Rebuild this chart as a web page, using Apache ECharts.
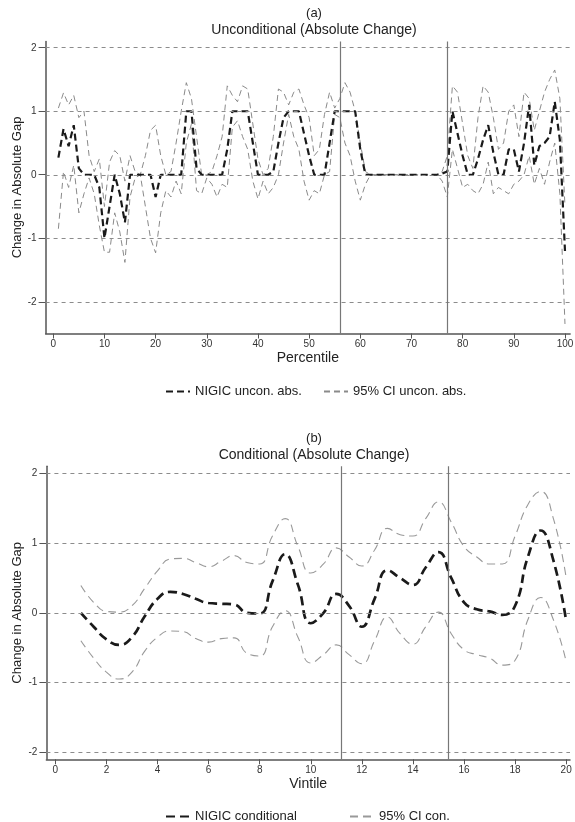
<!DOCTYPE html>
<html>
<head>
<meta charset="utf-8">
<script src="https://cdn.jsdelivr.net/npm/echarts@6/dist/echarts.min.js"></script>
<style>
html,body{margin:0;padding:0;background:#fff;}
#chart{width:575px;height:822px;}
</style>
</head>
<body>
<div id="chart"></div>
<script>
// ---------- Panel (a): unconditional, by percentile ----------
const percentiles = Array.from({length: 100}, (_, i) => i + 1);
const uncMain = [
 0.27,0.72,0.45,0.78,0.10,0,0,0,-0.20,-1.00,
 -0.50,0,-0.30,-0.75,0,0,0,0,0,-0.35,
 0,0,0,0,0,1.00,1.00,0.10,0,0,
 0,0,0,0.40,1.00,1.00,1.00,1.00,0.50,0,
 0,0,0.05,0.50,0.90,1.00,1.00,1.00,0.65,0.30,
 0,0,0,0.50,1.00,1.00,1.00,1.00,1.00,0.40,
 0,0,0,0,0,0,0,0,0,0,
 0,0,0,0,0,0.02,0.05,1.00,0.65,0.30,
 0,0,0.25,0.55,0.78,0.35,0,0,0.40,0.40,
 0.05,0.50,1.10,0.15,0.45,0.50,0.60,1.15,0.55,-1.20
];
const uncUpper = [
 1.05,1.29,1.10,1.25,0.90,1.00,0.30,0.05,0.25,-0.50,
 0.20,0.38,0.30,-0.10,0.30,0.05,0,0.30,0.70,0.78,
 0.30,0,0.05,0.50,1.00,1.45,1.20,0.60,0,0,
 0.05,0.30,0.60,1.40,1.25,1.15,1.40,1.35,0.80,0.25,
 0,0.10,0.60,1.35,1.30,1.10,1.30,1.35,1.10,0.90,
 0.30,0.40,0.95,1.30,1.05,1.20,1.45,1.30,1.00,0.50,
 0.05,0,0,0,0,0,0,0,0,0,
 0,0,0,0,0,0.05,0.30,1.40,1.30,0.80,
 0.30,0.10,0.90,1.40,1.30,0.90,0.40,0.50,1.00,1.10,
 0.60,1.30,1.20,0.70,1.00,1.30,1.50,1.65,1.20,-0.50
];
const uncLower = [
 -0.85,0.05,-0.20,0.15,-0.60,-0.30,-0.05,-0.30,-0.80,-1.22,
 -1.22,-0.60,-0.90,-1.38,-0.35,-0.05,0,-0.50,-1.00,-1.23,
 -0.60,-0.25,-0.35,-0.10,-0.30,0.50,0.80,-0.25,-0.30,-0.05,
 -0.15,-0.35,-0.15,-0.20,0.75,0.85,0.60,0.40,-0.10,-0.38,
 -0.10,-0.30,-0.20,0,0.50,0.95,0.60,0.40,-0.10,-0.40,
 -0.25,-0.30,0,0.05,0.95,0.90,0.50,0.30,-0.10,-0.40,
 -0.15,0,0,0,0,0,0,0,0,0,
 0,0,0,0,0,-0.10,-0.35,0.40,0.10,-0.20,
 -0.15,-0.25,-0.30,-0.15,0.20,-0.30,-0.20,-0.25,-0.30,-0.15,
 -0.10,0,0.30,-0.15,0.10,-0.15,0.20,0.50,-0.30,-2.35
];
const uncXTicks = [0,10,20,30,40,50,60,70,80,90,100];
const uncVLines = [56, 77];

// ---------- Panel (b): conditional, by vintile ----------
const vintiles = [1,1.5,2,2.5,3,3.5,4,4.5,5,5.5,6,6.5,7,7.5,8,8.5,9,9.5,10,10.5,
                  11,11.5,12,12.5,13,13.5,14,14.5,15,15.5,16,16.5,17,17.5,18,18.5,19,19.5,20];
const conMain = [0.0,-0.2,-0.38,-0.46,-0.35,-0.05,0.2,0.3,0.27,0.2,
                 0.14,0.13,0.12,0.0,-0.01,0.45,0.84,0.4,-0.15,0.0,
                 0.27,0.1,-0.2,0.2,0.61,0.5,0.4,0.65,0.87,0.5,
                 0.15,0.05,0.02,-0.03,0.1,0.8,1.18,0.75,-0.12];
const conUpper = [0.39,0.15,0.02,0.01,0.1,0.35,0.6,0.77,0.78,0.72,
                  0.66,0.74,0.82,0.72,0.7,1.1,1.35,0.95,0.57,0.7,
                  0.93,0.8,0.67,0.9,1.21,1.12,1.1,1.35,1.59,1.3,
                  0.95,0.8,0.7,0.7,1.1,1.55,1.74,1.35,0.5];
const conLower = [-0.4,-0.65,-0.85,-0.95,-0.85,-0.55,-0.35,-0.26,-0.27,-0.37,
                  -0.42,-0.37,-0.36,-0.58,-0.62,-0.2,0.03,-0.35,-0.72,-0.6,
                  -0.46,-0.6,-0.73,-0.4,-0.06,-0.3,-0.45,-0.2,0.01,-0.3,
                  -0.53,-0.6,-0.65,-0.75,-0.68,-0.1,0.22,-0.1,-0.7];
const conXTicks = [0,2,4,6,8,10,12,14,16,18,20];
const conVLines = [11.2, 15.4];

const yTicks = [-2,-1,0,1,2];

// ---------- styles ----------
const FONT = 'Liberation Sans';
const axisCol = '#555';
const gridDash = {color:'#8c8c8c', width:1, type:[4,4]};
const vStyle = {color:'#777', width:1.2, type:'solid'};

function pairs(xs, ys){ return xs.map((x,i)=>[x, ys[i]]); }

function gridMarks(vlines){
  return {
    silent:true, symbol:'none', label:{show:false}, animation:false,
    data: yTicks.map(v=>({yAxis:v, lineStyle:gridDash}))
          .concat(vlines.map(v=>({xAxis:v, lineStyle:vStyle})))
  };
}

function xAxisDef(gi, min, max, ticks, name){
  return {
    type:'value', gridIndex:gi, min:min, max:max,
    name:name, nameLocation:'middle', nameGap:18,
    nameTextStyle:{fontFamily:FONT, fontSize:14, color:'#222'},
    axisLine:{show:true, onZero:false, lineStyle:{color:axisCol, width:1.5}},
    axisTick:{show:true, length:5, customValues:ticks, lineStyle:{color:axisCol}},
    axisLabel:{customValues:ticks, fontFamily:FONT, fontSize:10, color:'#333', margin:6},
    splitLine:{show:false}
  };
}
function yAxisDef(gi, min, max){
  return {
    type:'value', gridIndex:gi, min:min, max:max,
    name:'Change in Absolute Gap', nameLocation:'middle', nameGap:22, nameMoveOverlap:false,
    nameTextStyle:{fontFamily:FONT, fontSize:13, color:'#222'},
    axisLine:{show:true, onZero:false, lineStyle:{color:axisCol, width:1.5}},
    axisTick:{show:true, length:7, customValues:yTicks, lineStyle:{color:axisCol}},
    axisLabel:{customValues:yTicks, fontFamily:FONT, fontSize:10, color:'#333', margin:9},
    splitLine:{show:false}
  };
}

const ciStyleTop = {color:'#8a8a8a', width:1, type:[6,4]};
const mainStyleTop = {color:'#1a1a1a', width:2.2, type:[7,4]};
const ciStyleBot = {color:'#999', width:1.1, type:[8,5]};
const mainStyleBot = {color:'#1a1a1a', width:2.7, type:[9,5]};

const legendBase = {itemWidth:24, itemHeight:10, itemStyle:{opacity:0},
  textStyle:{fontFamily:FONT, fontSize:13, color:'#222'}};

const option = {
  animation:false,
  backgroundColor:'#fff',
  title:[
    {text:'(a)', left:309, top:2, textAlign:'center', textStyle:{fontFamily:FONT, fontSize:13, fontWeight:'normal', color:'#222'}},
    {text:'Unconditional (Absolute Change)', left:309, top:18, textAlign:'center', textStyle:{fontFamily:FONT, fontSize:14, fontWeight:'normal', color:'#222'}},
    {text:'(b)', left:309, top:427, textAlign:'center', textStyle:{fontFamily:FONT, fontSize:13, fontWeight:'normal', color:'#222'}},
    {text:'Conditional (Absolute Change)', left:309, top:443, textAlign:'center', textStyle:{fontFamily:FONT, fontSize:14, fontWeight:'normal', color:'#222'}}
  ],
  legend:[
    Object.assign({data:['NIGIC uncon. abs.'], left:160, top:380}, legendBase),
    Object.assign({data:['95% CI uncon. abs.'], left:318, top:380}, legendBase),
    Object.assign({data:['NIGIC conditional'], left:160, top:805}, legendBase),
    Object.assign({data:['95% CI con.'], left:344, top:805}, legendBase)
  ],
  grid:[
    {left:45.6, width:524.5, top:41.4, height:292.1, containLabel:false, outerBoundsMode:'none'},
    {left:46.4, width:523.6, top:466.3, height:293, containLabel:false, outerBoundsMode:'none'}
  ],
  xAxis:[
    xAxisDef(0, -1.5, 101, uncXTicks, 'Percentile'),
    xAxisDef(1, -0.35, 20.15, conXTicks, 'Vintile')
  ],
  yAxis:[
    yAxisDef(0, -2.5, 2.1),
    yAxisDef(1, -2.1, 2.1)
  ],
  series:[
    {name:'95% CI uncon. abs.', type:'line', xAxisIndex:0, yAxisIndex:0, symbol:'none',
     data:pairs(percentiles, uncUpper), lineStyle:ciStyleTop, itemStyle:{color:'#8a8a8a'},
     markLine:gridMarks(uncVLines), z:2},
    {name:'95% CI uncon. abs.', type:'line', xAxisIndex:0, yAxisIndex:0, symbol:'none',
     data:pairs(percentiles, uncLower), lineStyle:ciStyleTop, itemStyle:{color:'#8a8a8a'}, z:2},
    {name:'NIGIC uncon. abs.', type:'line', xAxisIndex:0, yAxisIndex:0, symbol:'none',
     data:pairs(percentiles, uncMain), lineStyle:mainStyleTop, itemStyle:{color:'#1a1a1a'}, z:3},

    {name:'95% CI con.', type:'line', xAxisIndex:1, yAxisIndex:1, symbol:'none', smooth:0.5,
     data:pairs(vintiles, conUpper), lineStyle:ciStyleBot, itemStyle:{color:'#999'},
     markLine:gridMarks(conVLines), z:2},
    {name:'95% CI con.', type:'line', xAxisIndex:1, yAxisIndex:1, symbol:'none', smooth:0.5,
     data:pairs(vintiles, conLower), lineStyle:ciStyleBot, itemStyle:{color:'#999'}, z:2},
    {name:'NIGIC conditional', type:'line', xAxisIndex:1, yAxisIndex:1, symbol:'none', smooth:0.5,
     data:pairs(vintiles, conMain), lineStyle:mainStyleBot, itemStyle:{color:'#1a1a1a'}, z:3}
  ]
};

const chart = echarts.init(document.getElementById('chart'), null, {renderer:'canvas'});
chart.setOption(option);
</script>
</body>
</html>
